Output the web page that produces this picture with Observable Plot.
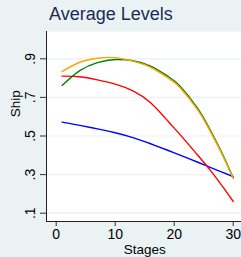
<!DOCTYPE html>
<html>
<head>
<meta charset="utf-8">
<script src="https://cdn.jsdelivr.net/npm/d3@7"></script>
<script src="https://cdn.jsdelivr.net/npm/@observablehq/plot@0.6"></script>
<style>
  html, body { margin: 0; padding: 0; background: #eaf2f3; overflow: hidden; width: 241px; height: 257px; }
  #title { box-sizing: border-box; height: 31px; padding: 4px 0 0 49px; font: 18px "Liberation Sans", Arial, sans-serif; line-height: 20px; color: #1c2c56; white-space: nowrap; }
  #chart { width: 262px; }
  #chart svg { display: block; overflow: visible; max-width: none !important; width: 262px !important; height: 226px !important; }
</style>
</head>
<body>
<div id="title">Average Levels</div>
<div id="chart"></div>
<script>
const stages = [1, 4, 7, 10, 13, 16, 19, 21, 24, 26, 28, 30];
const blueSeries   = [0.572, 0.555, 0.537, 0.517, 0.492, 0.460, 0.425, 0.401, 0.364, 0.339, 0.314, 0.290];
const redSeries    = [0.810, 0.807, 0.791, 0.769, 0.734, 0.672, 0.575, 0.507, 0.400, 0.327, 0.247, 0.161];
const greenSeries  = [0.762, 0.839, 0.880, 0.896, 0.890, 0.862, 0.808, 0.758, 0.642, 0.537, 0.418, 0.283];
const orangeSeries = [0.834, 0.882, 0.903, 0.906, 0.888, 0.856, 0.800, 0.750, 0.634, 0.530, 0.412, 0.281];
const xTicks = [0, 10, 20, 30];
const yTicks = [0.1, 0.3, 0.5, 0.7, 0.9];
const xLabel = "Stages";
const yLabel = "Ship";

const seriesList = [
  {name: "blue", color: "#0000ff", values: blueSeries},
  {name: "red", color: "#ff0000", values: redSeries},
  {name: "green", color: "#008000", values: greenSeries},
  {name: "orange", color: "#ff9000", values: orangeSeries}
];
const rows = seriesList.flatMap(s => stages.map((st, i) => ({series: s.name, stage: st, value: s.values[i]})));
const fmt = d => String(d).replace(/^0/, "");
const font = '"Liberation Sans", Arial, sans-serif';

const plot = Plot.plot({
  width: 262,
  height: 226,
  marginLeft: 46,
  marginRight: 0,
  marginTop: 0,
  marginBottom: 36,
  style: {fontFamily: font, fontSize: "14px", color: "#000", background: "transparent"},
  x: {domain: [0, 30], range: [55.7, 232.7]},
  y: {domain: [0.1, 0.9], range: [181.7, 27.3]},
  color: {domain: seriesList.map(s => s.name), range: seriesList.map(s => s.color)},
  marks: [
    Plot.frame({fill: "white", stroke: null}),
    Plot.gridY(yTicks, {stroke: "#eaf2f3", strokeOpacity: 1, strokeWidth: 1.2}),
    Plot.axisY({ticks: yTicks, tickSize: 6, tickFormat: () => "", label: null, stroke: "#333"}),
    Plot.text(yTicks, {y: d => d, text: fmt, frameAnchor: "left", dx: -11.5, rotate: -90, textAnchor: "middle", lineAnchor: "bottom", fontSize: 14, fill: "#000"}),
    Plot.axisX({ticks: xTicks, tickSize: 5, tickPadding: 3, label: null, stroke: "#333", fontSize: 14}),
    Plot.frame({anchor: "left", stroke: "#222"}),
    Plot.frame({anchor: "bottom", stroke: "#222"}),
    Plot.line(rows, {x: "stage", y: "value", z: "series", stroke: "series", strokeWidth: 1.4, curve: "natural"}),
    Plot.text([xLabel], {x: [15], frameAnchor: "bottom", dy: 28.5, lineAnchor: "middle", fontSize: 13.5, fill: "#000"}),
    Plot.text([yLabel], {frameAnchor: "left", dx: -31, dy: -9.3, rotate: -90, fontSize: 13.5, fill: "#000"})
  ]
});
document.getElementById("chart").appendChild(plot);
</script>
</body>
</html>
